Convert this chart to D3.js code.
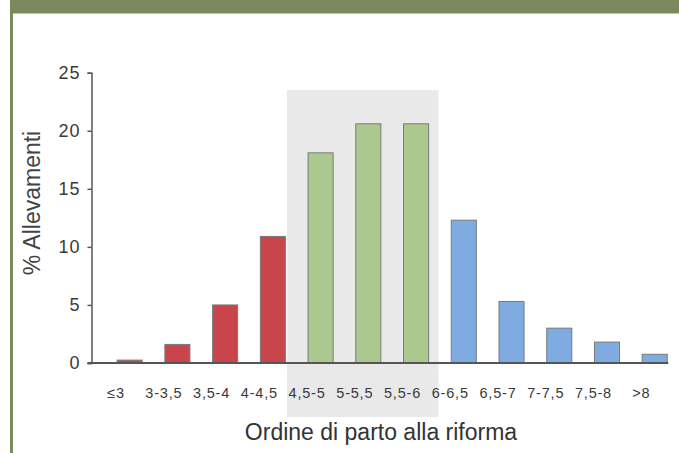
<!DOCTYPE html>
<html>
<head>
<meta charset="utf-8">
<script src="https://cdn.jsdelivr.net/npm/d3@7"></script>
<style>
  body { margin: 0; background: #fff; }
  svg { display: block; font-family: "Liberation Sans", Arial, sans-serif; }
</style>
</head>
<body>
<div id="vis"></div>
<script>
// categories, values and group of each bar
var categories = ["≤3", "3-3,5", "3,5-4", "4-4,5", "4,5-5", "5-5,5", "5,5-6", "6-6,5", "6,5-7", "7-7,5", "7,5-8", ">8"];
var values = [0.25, 1.6, 5.0, 10.9, 18.1, 20.6, 20.6, 12.3, 5.3, 3.0, 1.8, 0.75];
var groups = ["low", "low", "low", "low", "mid", "mid", "mid", "high", "high", "high", "high", "high"];
var yTicks = [0, 5, 10, 15, 20, 25];

var W = 679, H = 453;
var colors = { low: "#c8464b", mid: "#abc98f", high: "#7eabe0" };

var svg = d3.select("#vis").append("svg").attr("width", W).attr("height", H);

// frame: top band and left line
svg.append("rect").attr("x", 10).attr("y", 0).attr("width", W - 10).attr("height", 13.5).attr("fill", "#7b895e");
svg.append("rect").attr("x", 10).attr("y", 0).attr("width", 3).attr("height", H).attr("fill", "#7b895e");

var xScale = d3.scaleBand().domain(categories).range([105.8, 678.6]).paddingInner(0.475).paddingOuter(0.2375);
var yScale = d3.scaleLinear().domain([0, 25]).range([363, 72.7]);

// gray highlight behind the central classes
var bx0 = xScale("4,5-5") - 21;
var bx1 = xScale("5,5-6") + xScale.bandwidth() + 10;
svg.append("rect")
   .attr("x", bx0).attr("y", yScale(23.5))
   .attr("width", bx1 - bx0).attr("height", 417 - yScale(23.5))
   .attr("fill", "#e9e9e9");

// bars
svg.selectAll("rect.bar")
   .data(values).enter().append("rect")
   .attr("class", "bar")
   .attr("x", function(d, i) { return xScale(categories[i]); })
   .attr("y", function(d) { return yScale(d); })
   .attr("width", xScale.bandwidth())
   .attr("height", function(d) { return yScale(0) - yScale(d); })
   .attr("fill", function(d, i) { return colors[groups[i]]; })
   .attr("stroke", "#7a7a7a")
   .attr("stroke-width", 1);

// y axis
var yAxis = d3.axisLeft(yScale).tickValues(yTicks).tickSize(4).tickPadding(7).tickFormat(d3.format("d"));
var gy = svg.append("g").attr("transform", "translate(91.5,0)").call(yAxis);
gy.select(".domain").attr("stroke", "#555").attr("stroke-width", 1.5);
gy.selectAll(".tick line").attr("stroke", "#555").attr("stroke-width", 1.5);
gy.selectAll(".tick text")
  .attr("font-size", 18).attr("letter-spacing", 1).attr("fill", "#3a3a3a")
  .attr("font-family", "Liberation Sans, Arial, sans-serif");

// x axis line
svg.append("line")
   .attr("x1", 87.5).attr("x2", xScale(">8") + xScale.bandwidth() + 1)
   .attr("y1", yScale(0)).attr("y2", yScale(0))
   .attr("stroke", "#555").attr("stroke-width", 2);

// x tick labels (centred near the left edge of each bar, as in the original)
svg.selectAll("text.xlab")
   .data(categories).enter().append("text")
   .attr("class", "xlab")
   .attr("x", function(d) { return xScale(d) - 1; })
   .attr("y", 398)
   .attr("text-anchor", "middle")
   .attr("font-size", 14.5)
   .attr("letter-spacing", 0.8)
   .attr("fill", "#3a3a3a")
   .text(function(d) { return d; });

// axis titles
svg.append("text")
   .attr("x", 381).attr("y", 440)
   .attr("text-anchor", "middle")
   .attr("font-size", 23)
   .attr("fill", "#333")
   .text("Ordine di parto alla riforma");

svg.append("text")
   .attr("transform", "translate(40,203) rotate(-90)")
   .attr("text-anchor", "middle")
   .attr("font-size", 23)
   .attr("fill", "#444")
   .text("% Allevamenti");
</script>
</body>
</html>
